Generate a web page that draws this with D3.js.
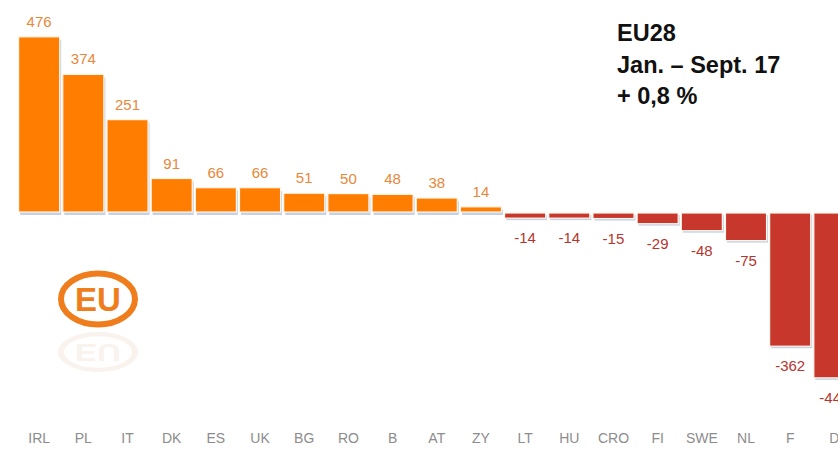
<html>
<script src='https://d3js.org/d3.v7.min.js'></script>
<style>
body {margin: 0; background: white;}
text {font-family: "Liberation Sans", Arial, sans-serif;}
</style>
<body onload='init()'>
<svg width=838 height=465></svg>
<script>
var countries = ["IRL","PL","IT","DK","ES","UK","BG","RO","B","AT","ZY","LT","HU","CRO","FI","SWE","NL","F","D"];
var changes = [476,374,251,91,66,66,51,50,48,38,14,-14,-14,-15,-29,-48,-75,-362,-448];
var valueLabels = ["476","374","251","91","66","66","51","50","48","38","14","-14","-14","-15","-29","-48","-75","-362","-448"];
var infoLines = ["EU28","Jan. \u2013 Sept. 17","+ 0,8 %"];

function init() {
	var svg = d3.select("svg");
	var data = countries.map((c,i) => ({name: c, value: changes[i], label: valueLabels[i]}));

	var x = d3.scaleBand().domain(countries).range([15.5, 858]).padding(0.07);
	var y = d3.scaleLinear().domain([-500, 500]).range([212+184, 212-184]);

	// faint bluish shadow under the bars
	svg.append("g").selectAll("rect").data(data).enter().append("rect")
		.attr("x", d => x(d.name) + 1.5)
		.attr("y", d => Math.min(y(d.value), y(0)) + 3)
		.attr("width", x.bandwidth())
		.attr("height", d => Math.max(Math.abs(y(d.value) - y(0)), 1.5))
		.attr("fill", "#aebfd8")
		.attr("opacity", 0.7);

	svg.append("g").selectAll("rect").data(data).enter().append("rect")
		.attr("x", d => x(d.name))
		.attr("y", d => d.value >= 0 ? y(d.value) : y(0) + 1)
		.attr("width", x.bandwidth())
		.attr("height", d => Math.max(Math.abs(y(d.value) - y(0)), 1.5))
		.attr("fill", d => d.value >= 0 ? "#ff7d00" : "#c8372c")
		.attr("stroke", "#fff6ea")
		.attr("stroke-width", 1.2);

	// value labels
	svg.append("g").selectAll("text").data(data).enter().append("text")
		.attr("x", d => x(d.name) + x.bandwidth()/2)
		.attr("y", d => d.value >= 0 ? y(d.value) - 10 : y(d.value) + 26)
		.attr("text-anchor", "middle")
		.style("font-size", "15px")
		.attr("fill", d => d.value >= 0 ? "#e8883a" : "#b5352d")
		.text(d => d.label);

	// country axis
	svg.append("g").attr("transform", "translate(0,443)")
		.call(d3.axisBottom(x).tickSize(0).tickPadding(0))
		.call(g => g.select(".domain").remove())
		.selectAll("text")
		.attr("dy", 0)
		.style("font-size", "14px")
		.style("font-family", "'Liberation Sans', Arial, sans-serif")
		.attr("fill", "#8c8c8c");

	// info block
	svg.append("g").selectAll("text").data(infoLines).enter().append("text")
		.attr("x", 617)
		.attr("y", (d,i) => 41 + i*31.5)
		.style("font-size", "23.5px")
		.style("font-weight", "bold")
		.attr("fill", "#111")
		.text(d => d);

	// EU logo
	var logo = svg.append("g").attr("transform", "translate(98,299)");
	logo.append("ellipse").attr("rx", 37).attr("ry", 25.5)
		.attr("fill", "none").attr("stroke", "#f07d1c").attr("stroke-width", 6);
	logo.append("text").attr("text-anchor", "middle").attr("y", 12)
		.style("font-size", "33px").style("font-weight", "bold")
		.attr("fill", "#f07d1c").text("EU");
	var refl = svg.append("g").attr("transform", "translate(98,352) scale(1,-0.7)").attr("opacity", 0.1);
	refl.append("ellipse").attr("rx", 37).attr("ry", 25.5)
		.attr("fill", "none").attr("stroke", "#c98a5a").attr("stroke-width", 6);
	refl.append("text").attr("text-anchor", "middle").attr("y", 12)
		.style("font-size", "33px").style("font-weight", "bold")
		.attr("fill", "#c98a5a").text("EU");
}
</script>
</body>
</html>
